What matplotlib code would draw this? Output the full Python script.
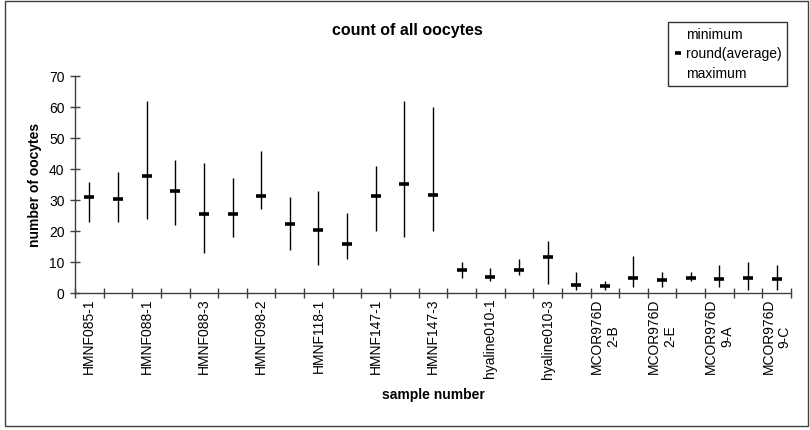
import matplotlib
matplotlib.use('Agg')
import matplotlib.pyplot as plt
from matplotlib.lines import Line2D
from matplotlib.patches import Rectangle

plt.rcParams['font.family'] = ['Liberation Sans', 'DejaVu Sans']

# samples (only every other name is printed on the axis)
samples = ['HMNF085-1', 'HMNF085-2', 'HMNF088-1', 'HMNF088-2', 'HMNF088-3',
           'HMNF098-1', 'HMNF098-2', 'HMNF098-3', 'HMNF118-1', 'HMNF118-2',
           'HMNF147-1', 'HMNF147-2', 'HMNF147-3', 'hyaline010-0', 'hyaline010-1',
           'hyaline010-2', 'hyaline010-3', 'MCOR976D\n2-A', 'MCOR976D\n2-B',
           'MCOR976D\n2-C', 'MCOR976D\n2-E', 'MCOR976D\n9-0', 'MCOR976D\n9-A',
           'MCOR976D\n9-B', 'MCOR976D\n9-C']
minimum = [23, 23, 24, 22, 13, 18, 27, 14, 9, 11, 20, 18, 20,
           5, 4, 6, 3, 1, 1, 2, 2, 4, 2, 1, 1]
maximum = [36, 39, 62, 43, 42, 37, 46, 31, 33, 26, 41, 62, 60,
           10, 8, 11, 17, 7, 4, 12, 7, 7, 9, 10, 9]
average = [31, 30.4, 37.8, 33.1, 25.5, 25.5, 31.3, 22.3, 20.5, 15.8, 31.3, 35.1, 31.7,
           7.5, 5.3, 7.5, 11.7, 2.8, 2.4, 4.8, 4.4, 4.8, 4.5, 4.8, 4.6]

W, H = 810, 430
fig = plt.figure(figsize=(W / 100, H / 100), dpi=100)
ax = fig.add_axes([75 / W, 1 - 293.3 / H, (791 - 75) / W, (293.3 - 76) / H])

x = [i + 0.5 for i in range(len(samples))]

# high-low lines plus the average dash
ax.vlines(x, minimum, maximum, color='black', lw=1.0)
ax.plot(x, average, ls='none', marker='_', ms=7, mew=2.6, color='black')

ax.set_xlim(0, len(samples))
ax.set_ylim(0, 70)
ax.set_yticks(range(0, 71, 10))

# ticks between categories, labels on category centres
ax.set_xticks(range(len(samples) + 1))
ax.set_xticklabels([])
ax.set_xticks(x, minor=True)
ax.set_xticklabels([s if i % 2 == 0 else '' for i, s in enumerate(samples)],
                   minor=True, rotation=90, va='top', ha='center',
                   multialignment='center', fontsize=10)
ax.tick_params(axis='x', which='major', direction='inout', length=7, width=1, color='#404040')
ax.tick_params(axis='x', which='minor', length=0, pad=4)
ax.tick_params(axis='y', direction='inout', length=7, width=1, color='#404040',
               labelsize=10, pad=4)

for side in ['top', 'right']:
    ax.spines[side].set_visible(False)
for side in ['left', 'bottom']:
    ax.spines[side].set_color('#404040')
    ax.spines[side].set_linewidth(1)

fig.text(407.5 / W, 1 - 30 / H, 'count of all oocytes', ha='center', va='center',
         fontsize=11.5, fontweight='bold')
fig.text(433 / W, 1 - 395 / H, 'sample number', ha='center', va='center',
         fontsize=10, fontweight='bold')
fig.text(35 / W, 1 - 185 / H, 'number of oocytes', ha='center', va='center',
         rotation=90, fontsize=10, fontweight='bold')

handles = [Line2D([], [], ls='none'),
           Line2D([], [], ls='none', marker='_', ms=5, mew=2.6, color='black'),
           Line2D([], [], ls='none')]
leg = fig.legend(handles, ['minimum', 'round(average)', 'maximum'],
                 loc='upper left', bbox_to_anchor=(668 / W, 1 - 22 / H),
                 borderaxespad=0, fancybox=False, frameon=True, fontsize=10,
                 handlelength=0.6, handletextpad=0.3, labelspacing=0.4,
                 borderpad=0.4)
leg.get_frame().set_edgecolor('black')
leg.get_frame().set_linewidth(1)

# outer chart border
fig.patches.append(Rectangle((5 / W, 4 / H), 803 / W, 425 / H, transform=fig.transFigure,
                             fill=False, edgecolor='#404040', lw=1))

fig.savefig('out.png', dpi=100)
